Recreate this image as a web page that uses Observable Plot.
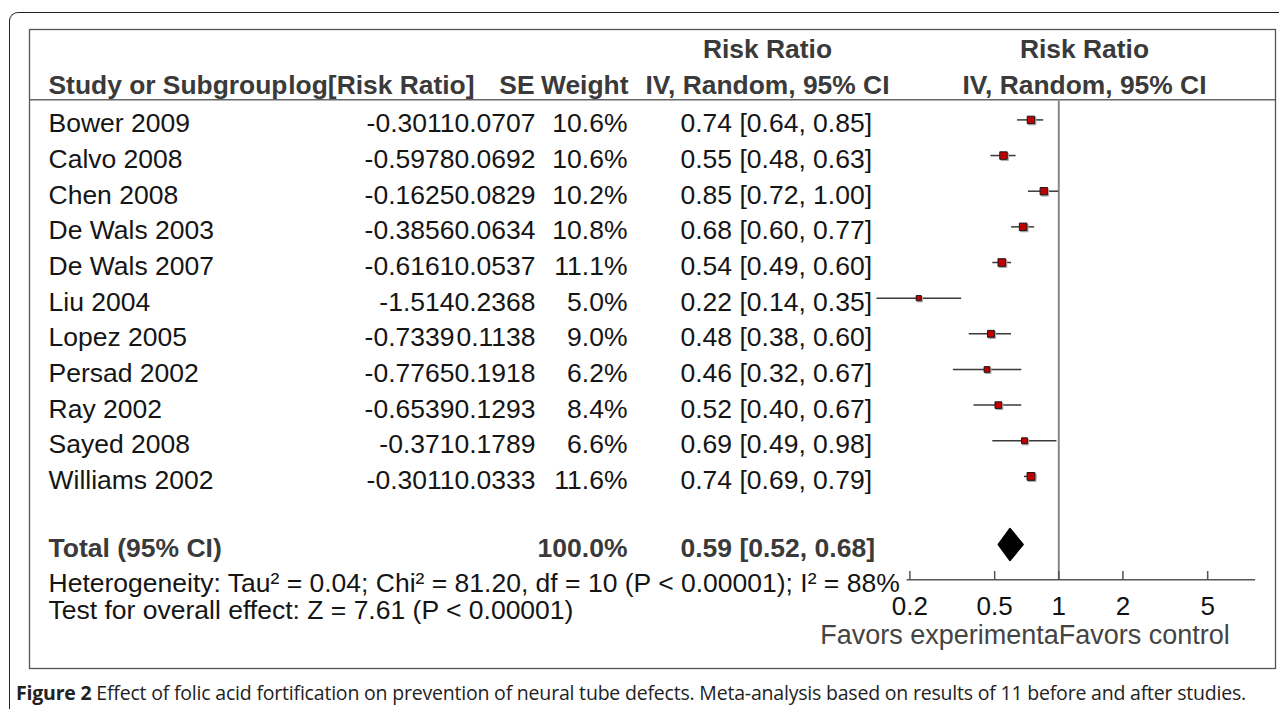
<!DOCTYPE html>
<html><head><meta charset="utf-8">
<script src="https://cdn.jsdelivr.net/npm/d3@7"></script>
<script src="https://cdn.jsdelivr.net/npm/@observablehq/plot@0.6"></script>
<style>
html,body{margin:0;padding:0;background:#fff;overflow:hidden;width:1279px;height:709px;}
#frame{position:absolute;left:9px;top:12px;width:1400px;height:800px;border-left:1.6px solid #222;border-top:1.6px solid #222;border-top-left-radius:9px;box-sizing:border-box;}
#chart{position:absolute;left:0;top:0;}
#caption{position:absolute;left:16px;top:679px;font-family:"Open Sans",sans-serif;font-size:19.5px;white-space:nowrap;color:#222;letter-spacing:-0.2px;}
#caption b{font-weight:700;}
</style></head><body>
<div id="frame"></div>
<div id="chart"></div>
<div id="caption"><b>Figure 2</b> Effect of folic acid fortification on prevention of neural tube defects. Meta-analysis based on results of 11 before and after studies.</div>
<script>
// ---- data ----
const studies = ["Bower 2009","Calvo 2008","Chen 2008","De Wals 2003","De Wals 2007","Liu 2004","Lopez 2005","Persad 2002","Ray 2002","Sayed 2008","Williams 2002"];
const logRR = ["-0.3011","-0.5978","-0.1625","-0.3856","-0.6161","-1.514","-0.7339","-0.7765","-0.6539","-0.371","-0.3011"];
const se = ["0.0707","0.0692","0.0829","0.0634","0.0537","0.2368","0.1138","0.1918","0.1293","0.1789","0.0333"];
const weight = [10.6,10.6,10.2,10.8,11.1,5.0,9.0,6.2,8.4,6.6,11.6];
const rr = [0.74,0.55,0.85,0.68,0.54,0.22,0.48,0.46,0.52,0.69,0.74];
const ciLow = [0.64,0.48,0.72,0.60,0.49,0.14,0.38,0.32,0.40,0.49,0.69];
const ciHigh = [0.85,0.63,1.00,0.77,0.60,0.35,0.60,0.67,0.67,0.98,0.79];
const totalRR = 0.59, totalLow = 0.52, totalHigh = 0.68, totalWeight = 100.0;
const tickValues = [0.2,0.5,1,2,5];
const heterogeneity = "Heterogeneity: Tau² = 0.04; Chi² = 81.20, df = 10 (P < 0.00001); I² = 88%";
const overall = "Test for overall effect: Z = 7.61 (P < 0.00001)";

// ---- table built from arrays ----
const rows = studies.map((s,i)=>({i, study:s, logRR:logRR[i], se:se[i], weight:weight[i], rr:rr[i], lo:ciLow[i], hi:ciHigh[i]}));
const fmt2 = v => v.toFixed(2);
const ciText = (r,l,h) => `${fmt2(r)} [${fmt2(l)}, ${fmt2(h)}]`;

// ---- layout (pixels) ----
const W = 1279, H = 672;
const mL = 29, mT = 29, mR = 4, mB = 4;
const row0 = 119.4, rowStep = 35.65;
const Y = py => (py - row0) / rowStep;   // pixel -> row units
const x1px = 1058.3, decade = 213;
const FONT = "Liberation Sans, Arial, sans-serif";
const body = {fontFamily: FONT, fontSize: 26.5, fill: "#151515"};
const head = {fontFamily: FONT, fontSize: 26.4, fontWeight: "bold", fill: "#3a3a3a"};
const bold = {fontFamily: FONT, fontSize: 26.5, fontWeight: "bold", fill: "#3a3a3a"};
const totalY = Y(544), diamondH = 16 / rowStep;
const axisY = Y(579.3);
const ciStart = 680;

function label(str, px, py, opts) {
  return Plot.text([str], {frameAnchor: "left", dx: px - mL, y: Y(py), text: d => d, lineAnchor: "middle", ...opts});
}
function col(field, px, anchor, opts) {
  return Plot.text(rows, {frameAnchor: "left", dx: px - mL, y: "i", dy: 4, text: field, textAnchor: anchor, lineAnchor: "middle", ...body, ...opts});
}

const diamond = [
  {x: totalLow, y: totalY}, {x: totalRR, y: totalY - diamondH},
  {x: totalHigh, y: totalY}, {x: totalRR, y: totalY + diamondH}
];

const chart = Plot.plot({
  width: W, height: H,
  marginLeft: mL, marginTop: mT, marginRight: mR, marginBottom: mB,
  style: {background: "transparent", overflow: "visible"},
  x: {type: "log", domain: [0.1, 10], range: [x1px - decade, x1px + decade], axis: null},
  y: {domain: [0, 10], range: [row0, row0 + 10 * rowStep], axis: null},
  r: {type: "sqrt", domain: [0, 11.6], range: [0, 4.4]},
  marks: [
    Plot.frame({stroke: "#555", strokeWidth: 1.3}),
    Plot.ruleY([Y(99.3)], {stroke: "#666", strokeWidth: 1.6}),
    // header
    label("Risk Ratio", 767, 49.3, {...head, textAnchor: "middle"}),
    label("Risk Ratio", 1084, 49.3, {...head, textAnchor: "middle"}),
    label("Study or Subgroup", 48, 84.7, {...head, textAnchor: "start"}),
    label("log[Risk Ratio]", 474, 84.7, {...head, textAnchor: "end"}),
    label("SE", 534, 84.7, {...head, textAnchor: "end"}),
    label("Weight", 628, 84.7, {...head, textAnchor: "end"}),
    label("IV, Random, 95% CI", 767, 84.7, {...head, textAnchor: "middle"}),
    label("IV, Random, 95% CI", 1084, 84.7, {...head, textAnchor: "middle"}),
    // study rows
    col("study", 48, "start"),
    col("logRR", 454, "end"),
    col("se", 535, "end"),
    col(d => d.weight.toFixed(1) + "%", 627, "end"),
    col(d => ciText(d.rr, d.lo, d.hi), ciStart, "start"),
    // total row
    label("Total (95% CI)", 48, 548, {...bold, textAnchor: "start"}),
    label(totalWeight.toFixed(1) + "%", 627, 548, {...bold, textAnchor: "end"}),
    label(ciText(totalRR, totalLow, totalHigh), ciStart, 548, {...bold, textAnchor: "start"}),
    label(heterogeneity, 48, 583, {...body, textAnchor: "start"}),
    label(overall, 48, 610, {...body, textAnchor: "start"}),
    // forest
    Plot.ruleX([1], {y1: Y(99.3), y2: axisY, stroke: "#888", strokeWidth: 2}),
    Plot.ruleY(rows, {y: "i", x1: "lo", x2: "hi", stroke: "#3a3a3a", strokeWidth: 1.5}),
    Plot.dot(rows, {x: "rr", y: "i", r: "weight", symbol: "square", fill: "#aaa", stroke: "#aaa", strokeWidth: 1, dx: 1.2, dy: 1.2}),
    Plot.dot(rows, {x: "rr", y: "i", r: "weight", symbol: "square", fill: "#c00000", stroke: "#1a1a1a", strokeWidth: 1}),
    Plot.line(diamond, {x: "x", y: "y", fill: "black", stroke: "black", curve: "linear-closed"}),
    // axis
    Plot.ruleY([axisY], {x1: 0.194, x2: 8.4, stroke: "#555", strokeWidth: 1.5}),
    Plot.ruleX(tickValues, {x: d => d, y1: Y(571), y2: axisY, stroke: "#555", strokeWidth: 1.5}),
    Plot.text(tickValues, {x: d => d, y: Y(606.5), text: d => String(d), fontFamily: FONT, fontSize: 26, fill: "#111"}),
    Plot.text(["Favors experimenta"], {x: 1, y: Y(634.5), text: d => d, textAnchor: "end", fontFamily: FONT, fontSize: 27, fill: "#444"}),
    Plot.text(["Favors control"], {x: 1, y: Y(634.5), text: d => d, textAnchor: "start", fontFamily: FONT, fontSize: 27, fill: "#444"})
  ]
});
document.getElementById("chart").appendChild(chart);
</script>
</body></html>
